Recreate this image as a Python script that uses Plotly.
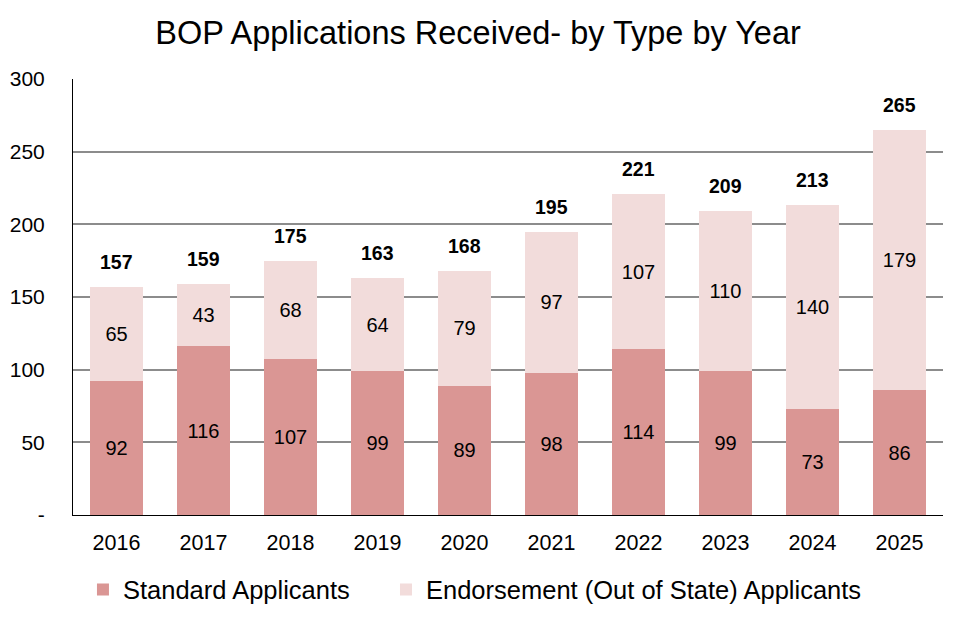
import plotly.graph_objects as go

years = ["2016", "2017", "2018", "2019", "2020", "2021", "2022", "2023", "2024", "2025"]
standard = [92, 116, 107, 99, 89, 98, 114, 99, 73, 86]
endorsement = [65, 43, 68, 64, 79, 97, 107, 110, 140, 179]
totals = [157, 159, 175, 163, 168, 195, 221, 209, 213, 265]
y_tickvals = [0, 50, 100, 150, 200, 250, 300]
y_ticktext = ["-", "50", "100", "150", "200", "250", "300"]

FONT = "Liberation Sans, Arial, sans-serif"

fig = go.Figure()
fig.add_bar(x=years, y=standard, name="Standard Applicants", legend="legend",
            showlegend=True,
            marker=dict(color="#DA9694", line=dict(width=0)),
            text=standard, textposition="inside", insidetextanchor="middle",
            textfont=dict(size=20, color="black", family=FONT), textangle=0)
fig.add_bar(x=years, y=endorsement, name="Endorsement (Out of State) Applicants",
            legend="legend2", showlegend=True,
            marker=dict(color="#F2DCDB", line=dict(width=0)),
            text=endorsement, textposition="inside", insidetextanchor="middle",
            textfont=dict(size=20, color="black", family=FONT), textangle=0)

for i, tot in enumerate(totals):
    fig.add_annotation(x=i, y=tot, text="<b>%d</b>" % tot, showarrow=False,
                       yanchor="bottom", yshift=12,
                       font=dict(size=19.5, color="black", family=FONT))

legend_common = dict(orientation="h", xref="container", xanchor="left",
                     y=0.05, yref="container", yanchor="middle",
                     font=dict(size=25.5), itemwidth=30)

fig.update_layout(
    showlegend=True,
    barmode="stack",
    bargap=0.39,
    width=958, height=621,
    margin=dict(l=73, r=15, t=79, b=106, autoexpand=False),
    paper_bgcolor="white", plot_bgcolor="white",
    font=dict(family=FONT, size=21, color="black"),
    title=dict(text="BOP Applications Received- by Type by Year", x=0.499, xref="container",
               xanchor="center", y=0.948, yanchor="middle",
               font=dict(size=32.5, color="black", family=FONT)),
    legend=dict(x=0.0866, **legend_common),
    legend2=dict(x=0.4029, **legend_common),
)
fig.update_xaxes(type="category", categoryorder="array", categoryarray=years,
                 showline=True, linecolor="black", linewidth=1, ticks="",
                 ticklabelstandoff=8, tickfont=dict(size=21.5), automargin=False,
                 showgrid=False)
fig.update_yaxes(range=[0, 300], tickvals=y_tickvals, ticktext=y_ticktext,
                 showline=True, linecolor="black", linewidth=1,
                 showgrid=True, gridcolor="#8C8C8C", gridwidth=1.5,
                 ticks="", ticklabelstandoff=23, tickfont=dict(size=21),
                 zeroline=False, automargin=False)

fig.write_html("out.html", config={"displayModeBar": False},
               post_script="document.body.style.margin='0px';document.body.style.padding='0px';")
